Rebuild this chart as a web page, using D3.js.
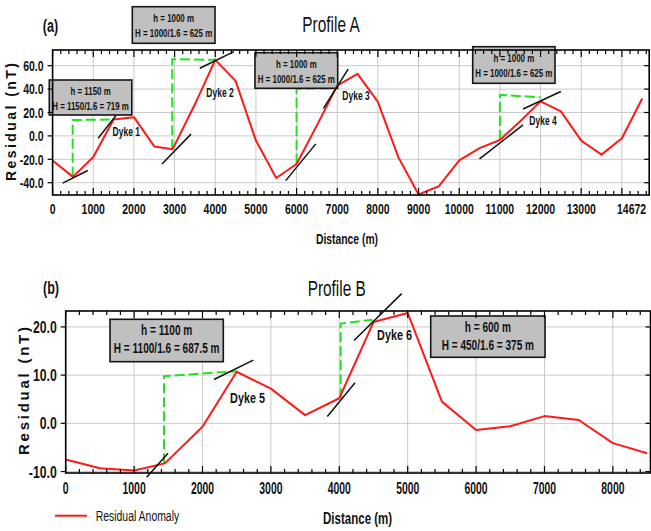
<!DOCTYPE html>
<html>
<head>
<meta charset="utf-8">
<script src="https://cdn.jsdelivr.net/npm/d3@7"></script>
<style>
  body { margin: 0; background: #fff; }
  svg { display: block; }
  text { font-family: "Liberation Sans", Arial, Helvetica, sans-serif; fill: #111; }
</style>
</head>
<body>
<svg id="chart" width="651" height="531"></svg>
<script>
// ---------- Profile A ----------
const distA  = [0, 500, 1000, 1500, 2000, 2500, 2950, 3500, 4000, 4500, 5000, 5500, 6000, 6500, 7000,
                7500, 8000, 8500, 9000, 9500, 10000, 10500, 11000, 11500, 12000, 12500, 13000, 13500, 14000, 14500];
const residA = [-21, -35, -18, 14, 16, -9, -11.5, 27, 65, 47, -4, -36, -24, 9, 43,
                53, 29, -18, -50, -43, -21, -10.5, -3.5, 12.5, 29.5, 21, -4, -16, -2, 32];
const xTicksA = [0, 1000, 2000, 3000, 4000, 5000, 6000, 7000, 8000, 9000, 10000, 11000, 12000, 13000, 14672];
const yTicksA = [-40, -20, 0, 20, 40, 60];
// half-height construction lines (distance, residual)
const guidesA = [
  [[494, -35], [494, 13.6], [1460, 14]],
  [[2942, -11.5], [2942, 65.5], [4000, 65]],
  [[6000, -24], [6000, 40], [7000, 41]],
  [[11000, -3.5], [11000, 35], [12000, 33]]
];
// tangents drawn at the flanks of each anomaly
const tangentsA = [
  [[248, -40.4], [864, -29.6]], [[1120, -2], [1560, 17.5]],
  [[2690, -24], [3405, 1.5]],   [[3620, 57.8], [4458, 72]],
  [[5733, -38.2], [6472, -6.8]], [[6661, 23.6], [7268, 57]],
  [[10500, -19.7], [11570, 9.4]], [[11570, 23], [12500, 37.9]]
];
const dykesA = ["Dyke 1", "Dyke 2", "Dyke 3", "Dyke 4"];
const notesA = [
  ["h = 1150 m", "H = 1150/1.6 = 719 m"],
  ["h = 1000 m", "H = 1000/1.6 = 625 m"],
  ["h = 1000 m", "H = 1000/1.6 = 625 m"],
  ["h = 1000 m", "H = 1000/1.6 = 625 m"]
];

// ---------- Profile B ----------
const distB  = [0, 500, 1000, 1450, 2000, 2500, 3000, 3500, 4000, 4500, 5000, 5500, 6000, 6500, 7000, 7500, 8000, 8500];
const residB = [-7.5, -9.3, -9.8, -8.3, -0.7, 10.7, 7.2, 1.7, 5.2, 21, 22.9, 4.5, -1.4, -0.6, 1.5, 0.7, -4.1, -6.2];
const xTicksB = [0, 1000, 2000, 3000, 4000, 5000, 6000, 7000, 8000];
const yTicksB = [-10, 0, 10, 20];
const guidesB = [
  [[1437, -8.3], [1437, 9.8], [2500, 10.8]],
  [[4020, 5.2], [4020, 20.7], [4488, 21.5]]
];
const tangentsB = [
  [[1184, -11.2], [1495, -6.2]], [[2168, 9.1], [2743, 13.1]],
  [[3825, 1.4], [4230, 8.4]],    [[4215, 17.2], [4912, 26.9]]
];
const dykesB = ["Dyke 5", "Dyke 6"];
const notesB = [
  ["h = 1100 m", "H = 1100/1.6 = 687.5 m"],
  ["h = 600 m", "H = 450/1.6 = 375 m"]
];

const svg = d3.select("#chart");

// text helper: narrow rendering via horizontal scaling
function label(g, x, y, str, o) {
  return g.append("text")
    .attr("transform", `translate(${x},${y}) scale(${o.sx || 1},1)`)
    .attr("text-anchor", o.anchor || "middle")
    .attr("font-size", o.size)
    .attr("font-weight", o.weight || "normal")
    .text(str);
}

function panel(cfg) {
  const { x, y } = cfg;
  const g = svg.append("g");
  const [x0, x1] = x.range(), [yb, yt] = y.range();
  const line = d3.line().x(d => x(d[0])).y(d => y(d[1]));

  // grid
  g.selectAll(".gx").data(cfg.gridX).join("line")
    .attr("x1", d => x(d)).attr("x2", d => x(d)).attr("y1", yt).attr("y2", yb)
    .attr("stroke", "#c9c9c9").attr("stroke-width", 1);
  g.selectAll(".gy").data(cfg.yTicks).join("line")
    .attr("x1", x0).attr("x2", x1).attr("y1", d => y(d)).attr("y2", d => y(d))
    .attr("stroke", "#c9c9c9").attr("stroke-width", 1);

  // construction lines
  g.selectAll(".guide").data(cfg.guides).join("path")
    .attr("d", line).attr("fill", "none")
    .attr("stroke", "#22e022").attr("stroke-width", 2).attr("stroke-dasharray", "10,4");

  // annotation boxes
  cfg.notes.forEach((t, i) => {
    const b = cfg.noteBoxes[i];
    g.append("rect").attr("x", b[0]).attr("y", b[1]).attr("width", b[2]).attr("height", b[3])
      .attr("fill", "#c0c0c0").attr("stroke", "#151515").attr("stroke-width", 1.6);
    label(g, b[0] + b[2] / 2, b[1] + cfg.noteLine[0], t[0], cfg.noteFont);
    label(g, b[0] + b[2] / 2, b[1] + cfg.noteLine[1], t[1], cfg.noteFont);
  });

  // residual anomaly
  g.append("path").datum(cfg.dist.map((d, i) => [d, cfg.resid[i]]))
    .attr("d", line).attr("fill", "none").attr("stroke", "#ff1a1a").attr("stroke-width", 2)
    .attr("stroke-linejoin", "round");

  // tangents
  g.selectAll(".tan").data(cfg.tangents).join("path")
    .attr("d", line).attr("stroke", "#111").attr("stroke-width", 1.5);

  // dyke labels
  cfg.dykes.forEach((d, i) => label(g, cfg.dykePos[i][0], cfg.dykePos[i][1], d, cfg.dykeFont));

  // frame
  g.append("rect").attr("x", x0).attr("y", yt).attr("width", x1 - x0).attr("height", yb - yt)
    .attr("fill", "none").attr("stroke", "#000").attr("stroke-width", 1.6);

  // x ticks: majors and minors, inside on bottom and top
  const minors = d3.range(0, x.domain()[1], 200).filter(v => v % 1000 !== 0);
  const majors = cfg.gridX.concat([0]);
  [[majors, 7], [minors, 4]].forEach(([vals, len]) => {
    g.append("g").selectAll("line").data(vals).join("line")
      .attr("x1", d => x(d)).attr("x2", d => x(d)).attr("y1", yb).attr("y2", yb - len)
      .attr("stroke", "#000").attr("stroke-width", 1.2);
    g.append("g").selectAll("line").data(vals).join("line")
      .attr("x1", d => x(d)).attr("x2", d => x(d)).attr("y1", yt).attr("y2", yt + len)
      .attr("stroke", "#000").attr("stroke-width", 1.2);
  });
  // y ticks
  g.append("g").selectAll("line").data(cfg.yTicks).join("line")
    .attr("x1", x0 - 5).attr("x2", x0).attr("y1", d => y(d)).attr("y2", d => y(d))
    .attr("stroke", "#000").attr("stroke-width", 1.2);
  g.append("g").selectAll("line").data(cfg.yTicks).join("line")
    .attr("x1", x1 - 5).attr("x2", x1).attr("y1", d => y(d)).attr("y2", d => y(d))
    .attr("stroke", "#000").attr("stroke-width", 1.2);

  // tick labels
  cfg.xTicks.forEach((v, i) => {
    const last = i === cfg.xTicks.length - 1 && cfg.lastEnd;
    label(g, last ? x1 - 3 : x(v), cfg.xLabelY, String(v),
      Object.assign({}, cfg.tickFontX, { anchor: last ? "end" : "middle" }));
  });
  cfg.yTicks.forEach(v => label(g, x0 - 9, y(v) + cfg.yLabelDy, v.toFixed(1),
    Object.assign({}, cfg.tickFontY, { anchor: "end" })));

  // axis titles
  label(g, cfg.xTitle[0], cfg.xTitle[1], "Distance (m)", cfg.xTitleFont);
  g.append("text")
    .attr("transform", `translate(${cfg.yTitle[0]},${cfg.yTitle[1]}) rotate(-90)`)
    .attr("text-anchor", "middle").attr("font-size", cfg.yTitle[2]).attr("font-weight", "bold")
    .attr("textLength", cfg.yTitle[3]).attr("lengthAdjust", "spacing")
    .text("Residual (nT)");

  // titles
  label(g, cfg.title[0], cfg.title[1], cfg.titleText, { size: 22, sx: 0.7 });
  label(g, cfg.tag[0], cfg.tag[1], cfg.tagText, { size: 19, sx: 0.66, weight: "bold" });
  return g;
}

panel({
  x: d3.scaleLinear().domain([0, 14672]).range([52.6, 649.2]),
  y: d3.scaleLinear().domain([-50.5, 73.4]).range([195, 50]),
  dist: distA, resid: residA, xTicks: xTicksA, yTicks: yTicksA,
  gridX: d3.range(1000, 14672, 1000), lastEnd: true,
  guides: guidesA, tangents: tangentsA,
  dykes: dykesA, dykePos: [[126.3, 135.5], [220, 97], [356, 100], [543, 124.5]],
  dykeFont: { size: 12.5, sx: 0.68, weight: "bold" },
  notes: notesA,
  noteBoxes: [[49.3, 80, 82.5, 35], [132.3, 6.7, 82.7, 36.6], [255, 52.7, 82.7, 35.6], [472.7, 46.7, 82.3, 36.6]],
  noteLine: [15, 30], noteFont: { size: 11.5, sx: 0.69, weight: "bold" },
  xLabelY: 213.5, tickFontX: { size: 15, sx: 0.7, weight: "bold" },
  yLabelDy: 5.3, tickFontY: { size: 15, sx: 0.7, weight: "bold" },
  xTitle: [347, 244], xTitleFont: { size: 15, sx: 0.69, weight: "bold" },
  yTitle: [16, 122, 14, 118],
  title: [331, 32], titleText: "Profile A",
  tag: [50.5, 31.5], tagText: "(a)"
});

panel({
  x: d3.scaleLinear().domain([0, 8550]).range([65.7, 650.5]),
  y: d3.scaleLinear().domain([-10.3, 23.3]).range([473, 311]),
  dist: distB, resid: residB, xTicks: xTicksB, yTicks: yTicksB,
  gridX: d3.range(1000, 8550, 1000), lastEnd: false,
  guides: guidesB, tangents: tangentsB,
  dykes: dykesB, dykePos: [[247.5, 403], [394.5, 340]],
  dykeFont: { size: 15, sx: 0.72, weight: "bold" },
  notes: notesB,
  noteBoxes: [[110, 319.3, 113.3, 42.4], [430.7, 316, 114.3, 41.3]],
  noteLine: [16, 34], noteFont: { size: 14, sx: 0.72, weight: "bold" },
  xLabelY: 494, tickFontX: { size: 16, sx: 0.65, weight: "bold" },
  yLabelDy: 6, tickFontY: { size: 17, sx: 0.72, weight: "bold" },
  xTitle: [357.6, 524], xTitleFont: { size: 16, sx: 0.72, weight: "bold" },
  yTitle: [29, 391, 15, 128],
  title: [336.7, 296], titleText: "Profile B",
  tag: [51, 293.5], tagText: "(b)"
});

// legend
const leg = svg.append("g");
leg.append("line").attr("x1", 55).attr("x2", 87).attr("y1", 515.7).attr("y2", 515.7)
  .attr("stroke", "#ff1a1a").attr("stroke-width", 2);
label(leg, 95.7, 521, "Residual Anomaly", { size: 14.5, sx: 0.72, anchor: "start" });
</script>
</body>
</html>
